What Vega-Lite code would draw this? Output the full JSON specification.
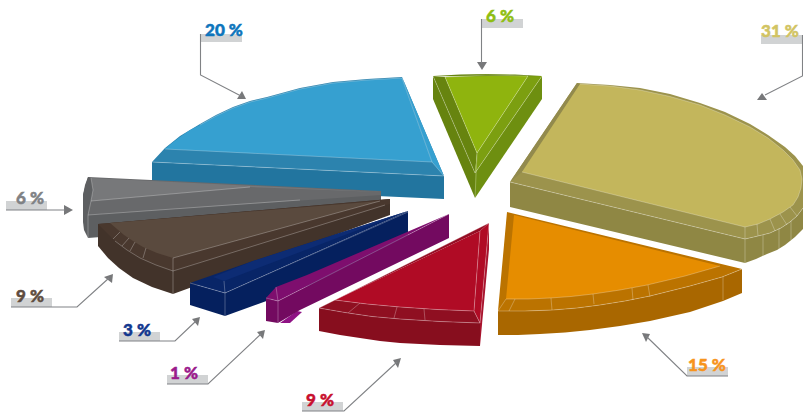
{
  "$schema": "https://vega.github.io/schema/vega-lite/v6.json",
  "width": 803,
  "height": 412,
  "padding": 0,
  "autosize": {"type": "none"},
  "background": "#ffffff",
  "view": {"stroke": null},
  "datasets": {
    "faces": [
      {"part":"blue side","x":152,"y":162},{"part":"blue side","x":444,"y":176},{"part":"blue side","x":444,"y":199},{"part":"blue side","x":152,"y":186},
      {"part":"blue bevel","x":402,"y":77},{"part":"blue bevel","x":367,"y":79},{"part":"blue bevel","x":333,"y":82},{"part":"blue bevel","x":300,"y":88},{"part":"blue bevel","x":267,"y":97},{"part":"blue bevel","x":250,"y":101},{"part":"blue bevel","x":233,"y":107},{"part":"blue bevel","x":216,"y":115},{"part":"blue bevel","x":200,"y":124},{"part":"blue bevel","x":180,"y":136},{"part":"blue bevel","x":165,"y":148},{"part":"blue bevel","x":152,"y":162},{"part":"blue bevel","x":444,"y":176},
      {"part":"blue top","x":402,"y":78},{"part":"blue top","x":367,"y":80},{"part":"blue top","x":333,"y":83},{"part":"blue top","x":300,"y":89},{"part":"blue top","x":267,"y":98},{"part":"blue top","x":250,"y":102},{"part":"blue top","x":233,"y":108},{"part":"blue top","x":216,"y":116},{"part":"blue top","x":200,"y":125},{"part":"blue top","x":190,"y":130},{"part":"blue top","x":180,"y":137},{"part":"blue top","x":172,"y":143},{"part":"blue top","x":165,"y":149},{"part":"blue top","x":432,"y":162},
      {"part":"blue inner","x":402,"y":77},{"part":"blue inner","x":444,"y":176},{"part":"blue inner","x":432,"y":162},

      {"part":"gray side","x":83,"y":195},{"part":"gray side","x":381,"y":195},{"part":"gray side","x":381,"y":215},{"part":"gray side","x":88,"y":238},{"part":"gray side","x":84,"y":230},{"part":"gray side","x":83,"y":222},
      {"part":"gray bevel","x":88,"y":177},{"part":"gray bevel","x":381,"y":191},{"part":"gray bevel","x":381,"y":195},{"part":"gray bevel","x":88,"y":215},{"part":"gray bevel","x":83,"y":195},
      {"part":"gray top","x":91,"y":178},{"part":"gray top","x":381,"y":192},{"part":"gray top","x":250,"y":187},{"part":"gray top","x":91,"y":201},{"part":"gray top","x":93,"y":190},
      {"part":"gray cap","x":88,"y":177},{"part":"gray cap","x":91,"y":178},{"part":"gray cap","x":93,"y":190},{"part":"gray cap","x":91,"y":201},{"part":"gray cap","x":88,"y":215},{"part":"gray cap","x":84,"y":205},{"part":"gray cap","x":83,"y":195},{"part":"gray cap","x":85,"y":185},

      {"part":"brown side","x":98,"y":224},{"part":"brown side","x":390,"y":199},{"part":"brown side","x":390,"y":215},{"part":"brown side","x":173,"y":294},{"part":"brown side","x":152,"y":287},{"part":"brown side","x":133,"y":278},{"part":"brown side","x":119,"y":268},{"part":"brown side","x":108,"y":258},{"part":"brown side","x":98,"y":246},
      {"part":"brown bevel","x":98,"y":224},{"part":"brown bevel","x":390,"y":199},{"part":"brown bevel","x":390,"y":204},{"part":"brown bevel","x":173,"y":271},{"part":"brown bevel","x":156,"y":265},{"part":"brown bevel","x":140,"y":258},{"part":"brown bevel","x":127,"y":250},{"part":"brown bevel","x":115,"y":241},{"part":"brown bevel","x":106,"y":232},
      {"part":"brown top","x":110,"y":223},{"part":"brown top","x":380,"y":201},{"part":"brown top","x":173,"y":258},{"part":"brown top","x":157,"y":253},{"part":"brown top","x":143,"y":247},{"part":"brown top","x":133,"y":241},{"part":"brown top","x":124,"y":235},{"part":"brown top","x":117,"y":229},

      {"part":"navy side","x":225,"y":293},{"part":"navy side","x":408,"y":211},{"part":"navy side","x":408,"y":250},{"part":"navy side","x":225,"y":316},
      {"part":"navy front","x":190,"y":283},{"part":"navy front","x":225,"y":293},{"part":"navy front","x":225,"y":316},{"part":"navy front","x":190,"y":305},
      {"part":"navy bevel","x":190,"y":283},{"part":"navy bevel","x":253,"y":261},{"part":"navy bevel","x":408,"y":211},{"part":"navy bevel","x":225,"y":293},
      {"part":"navy cap","x":213,"y":277},{"part":"navy cap","x":253,"y":261},{"part":"navy cap","x":408,"y":211},{"part":"navy cap","x":224,"y":281},

      {"part":"purple sliver","x":280,"y":323},{"part":"purple sliver","x":290,"y":323},{"part":"purple sliver","x":302,"y":312},{"part":"purple sliver","x":297,"y":311},
      {"part":"purple side","x":278,"y":301},{"part":"purple side","x":449,"y":214},{"part":"purple side","x":449,"y":238},{"part":"purple side","x":300,"y":310},{"part":"purple side","x":278,"y":323},
      {"part":"purple front","x":266,"y":298},{"part":"purple front","x":278,"y":301},{"part":"purple front","x":278,"y":323},{"part":"purple front","x":266,"y":321},
      {"part":"purple bevel","x":266,"y":298},{"part":"purple bevel","x":276,"y":287},{"part":"purple bevel","x":307,"y":275},{"part":"purple bevel","x":449,"y":214},{"part":"purple bevel","x":278,"y":301},

      {"part":"red side","x":319,"y":308},{"part":"red side","x":345,"y":312.5},{"part":"red side","x":372,"y":316.5},{"part":"red side","x":400,"y":319},{"part":"red side","x":440,"y":321.5},{"part":"red side","x":480,"y":323},{"part":"red side","x":480,"y":346},{"part":"red side","x":440,"y":345},{"part":"red side","x":400,"y":343},{"part":"red side","x":380,"y":341},{"part":"red side","x":360,"y":338},{"part":"red side","x":340,"y":335},{"part":"red side","x":319,"y":331},
      {"part":"red edge","x":489,"y":223},{"part":"red edge","x":480,"y":323},{"part":"red edge","x":480,"y":346},{"part":"red edge","x":489,"y":249},
      {"part":"red bevel","x":319,"y":308},{"part":"red bevel","x":335,"y":300},{"part":"red bevel","x":367,"y":304},{"part":"red bevel","x":400,"y":307},{"part":"red bevel","x":437,"y":309.5},{"part":"red bevel","x":474,"y":311},{"part":"red bevel","x":480,"y":323},{"part":"red bevel","x":440,"y":321.5},{"part":"red bevel","x":400,"y":319},{"part":"red bevel","x":372,"y":316.5},{"part":"red bevel","x":345,"y":312.5},
      {"part":"red rim","x":489,"y":223},{"part":"red rim","x":480,"y":231},{"part":"red rim","x":335,"y":300},{"part":"red rim","x":319,"y":308},
      {"part":"red top","x":480,"y":231},{"part":"red top","x":474,"y":311},{"part":"red top","x":437,"y":309.5},{"part":"red top","x":400,"y":307},{"part":"red top","x":367,"y":304},{"part":"red top","x":335,"y":300},
      {"part":"red inner","x":489,"y":223},{"part":"red inner","x":480,"y":231},{"part":"red inner","x":474,"y":311},{"part":"red inner","x":480,"y":323},

      {"part":"khaki side","x":510,"y":182},{"part":"khaki side","x":745,"y":239},{"part":"khaki side","x":758,"y":236},{"part":"khaki side","x":770,"y":233},{"part":"khaki side","x":781,"y":228},{"part":"khaki side","x":790,"y":222},{"part":"khaki side","x":797,"y":216},{"part":"khaki side","x":803,"y":208},{"part":"khaki side","x":803,"y":229},{"part":"khaki side","x":795,"y":237},{"part":"khaki side","x":785,"y":245},{"part":"khaki side","x":777,"y":250},{"part":"khaki side","x":767,"y":254},{"part":"khaki side","x":756,"y":259},{"part":"khaki side","x":745,"y":263},{"part":"khaki side","x":510,"y":207},
      {"part":"khaki bevel","x":577,"y":83},{"part":"khaki bevel","x":610,"y":85},{"part":"khaki bevel","x":640,"y":88},{"part":"khaki bevel","x":670,"y":94},{"part":"khaki bevel","x":700,"y":103},{"part":"khaki bevel","x":725,"y":112},{"part":"khaki bevel","x":750,"y":124},{"part":"khaki bevel","x":768,"y":135},{"part":"khaki bevel","x":785,"y":147},{"part":"khaki bevel","x":795,"y":156},{"part":"khaki bevel","x":803,"y":166},{"part":"khaki bevel","x":803,"y":208},{"part":"khaki bevel","x":797,"y":216},{"part":"khaki bevel","x":790,"y":222},{"part":"khaki bevel","x":781,"y":228},{"part":"khaki bevel","x":770,"y":233},{"part":"khaki bevel","x":758,"y":236},{"part":"khaki bevel","x":745,"y":239},{"part":"khaki bevel","x":510,"y":182},
      {"part":"khaki back","x":577,"y":83},{"part":"khaki back","x":580,"y":84},{"part":"khaki back","x":522,"y":172},{"part":"khaki back","x":510,"y":182},
      {"part":"khaki top","x":580,"y":84},{"part":"khaki top","x":610,"y":86},{"part":"khaki top","x":640,"y":90},{"part":"khaki top","x":670,"y":96.5},{"part":"khaki top","x":700,"y":105},{"part":"khaki top","x":725,"y":115},{"part":"khaki top","x":750,"y":127},{"part":"khaki top","x":768,"y":138},{"part":"khaki top","x":783,"y":150},{"part":"khaki top","x":793,"y":160},{"part":"khaki top","x":800,"y":170},{"part":"khaki top","x":802,"y":179},{"part":"khaki top","x":801,"y":188},{"part":"khaki top","x":798,"y":197},{"part":"khaki top","x":793,"y":205},{"part":"khaki top","x":783,"y":212},{"part":"khaki top","x":770,"y":219},{"part":"khaki top","x":758,"y":224},{"part":"khaki top","x":745,"y":227},{"part":"khaki top","x":522,"y":172},

      {"part":"green left side","x":433,"y":76},{"part":"green left side","x":475,"y":173},{"part":"green left side","x":475,"y":198},{"part":"green left side","x":433,"y":99},
      {"part":"green right side","x":542,"y":76},{"part":"green right side","x":542,"y":99},{"part":"green right side","x":475,"y":198},{"part":"green right side","x":475,"y":173},
      {"part":"green left bevel","x":433,"y":76},{"part":"green left bevel","x":445,"y":77},{"part":"green left bevel","x":477,"y":153},{"part":"green left bevel","x":475,"y":173},
      {"part":"green right bevel","x":542,"y":76},{"part":"green right bevel","x":528,"y":76},{"part":"green right bevel","x":477,"y":153},{"part":"green right bevel","x":475,"y":173},
      {"part":"green back","x":433,"y":76},{"part":"green back","x":460,"y":74.5},{"part":"green back","x":487,"y":74},{"part":"green back","x":515,"y":74.5},{"part":"green back","x":542,"y":76},{"part":"green back","x":487,"y":77},
      {"part":"green top","x":445,"y":77},{"part":"green top","x":487,"y":76},{"part":"green top","x":528,"y":76},{"part":"green top","x":477,"y":153},

      {"part":"orange side","x":498,"y":311},{"part":"orange side","x":525,"y":311},{"part":"orange side","x":553,"y":310},{"part":"orange side","x":577,"y":308},{"part":"orange side","x":600,"y":305},{"part":"orange side","x":625,"y":301},{"part":"orange side","x":650,"y":296},{"part":"orange side","x":690,"y":286},{"part":"orange side","x":722,"y":277},{"part":"orange side","x":742,"y":269},{"part":"orange side","x":742,"y":293},{"part":"orange side","x":723,"y":301},{"part":"orange side","x":690,"y":312},{"part":"orange side","x":650,"y":321},{"part":"orange side","x":620,"y":326},{"part":"orange side","x":590,"y":330},{"part":"orange side","x":565,"y":332.5},{"part":"orange side","x":540,"y":334},{"part":"orange side","x":518,"y":335},{"part":"orange side","x":498,"y":335},
      {"part":"orange bevel","x":507,"y":212},{"part":"orange bevel","x":742,"y":269},{"part":"orange bevel","x":722,"y":277},{"part":"orange bevel","x":690,"y":286},{"part":"orange bevel","x":650,"y":296},{"part":"orange bevel","x":625,"y":301},{"part":"orange bevel","x":600,"y":305},{"part":"orange bevel","x":577,"y":308},{"part":"orange bevel","x":553,"y":310},{"part":"orange bevel","x":525,"y":311},{"part":"orange bevel","x":498,"y":311},
      {"part":"orange top","x":514,"y":215},{"part":"orange top","x":720,"y":266},{"part":"orange top","x":685,"y":276},{"part":"orange top","x":647,"y":285},{"part":"orange top","x":620,"y":290},{"part":"orange top","x":593,"y":294},{"part":"orange top","x":571,"y":296.5},{"part":"orange top","x":550,"y":298},{"part":"orange top","x":528,"y":299},{"part":"orange top","x":506,"y":299},

      {"part":"blue arrow","x":237,"y":99},{"part":"blue arrow","x":246,"y":99},{"part":"blue arrow","x":242,"y":91},
      {"part":"green arrow","x":477,"y":62},{"part":"green arrow","x":487,"y":62},{"part":"green arrow","x":482,"y":70},
      {"part":"khaki arrow","x":757,"y":100},{"part":"khaki arrow","x":767,"y":100},{"part":"khaki arrow","x":762,"y":93},
      {"part":"orange arrow","x":642,"y":333},{"part":"orange arrow","x":650,"y":334},{"part":"orange arrow","x":646,"y":342},
      {"part":"red arrow","x":401,"y":358},{"part":"red arrow","x":393,"y":360},{"part":"red arrow","x":398,"y":368},
      {"part":"purple arrow","x":265,"y":330},{"part":"purple arrow","x":257,"y":332},{"part":"purple arrow","x":263,"y":339},
      {"part":"navy arrow","x":200,"y":317},{"part":"navy arrow","x":192,"y":319},{"part":"navy arrow","x":198,"y":326},
      {"part":"brown arrow","x":113,"y":274},{"part":"brown arrow","x":104,"y":277},{"part":"brown arrow","x":112,"y":283},
      {"part":"gray arrow","x":64,"y":205},{"part":"gray arrow","x":64,"y":215},{"part":"gray arrow","x":73,"y":210}
    ],
    "seams": [
      {"seam":"b1","x":152,"y":162},{"seam":"b1","x":444,"y":176},
      {"seam":"b2","x":165,"y":149},{"seam":"b2","x":432,"y":162},{"seam":"b2","x":444,"y":176},
      {"seam":"b3","x":402,"y":78},{"seam":"b3","x":432,"y":162},
      {"seam":"b4","x":402,"y":78},{"seam":"b4","x":367,"y":80},{"seam":"b4","x":333,"y":83},{"seam":"b4","x":300,"y":89},{"seam":"b4","x":267,"y":98},{"seam":"b4","x":250,"y":102},{"seam":"b4","x":233,"y":108},{"seam":"b4","x":216,"y":116},{"seam":"b4","x":200,"y":125},

      {"seam":"g1","x":91,"y":201},{"seam":"g1","x":250,"y":187},
      {"seam":"g2","x":88,"y":215},{"seam":"g2","x":300,"y":200},
      {"seam":"g3","x":88,"y":215},{"seam":"g3","x":91,"y":201},{"seam":"g3","x":93,"y":190},{"seam":"g3","x":91,"y":178},
      {"seam":"g4","x":88,"y":215},{"seam":"g4","x":88,"y":238},

      {"seam":"br1","x":173,"y":258},{"seam":"br1","x":380,"y":201},
      {"seam":"br2","x":173,"y":271},{"seam":"br2","x":385,"y":205},
      {"seam":"br3","x":173,"y":258},{"seam":"br3","x":173,"y":294},
      {"seam":"br4","x":115,"y":241},{"seam":"br4","x":127,"y":250},{"seam":"br4","x":140,"y":258},{"seam":"br4","x":156,"y":265},{"seam":"br4","x":173,"y":271},
      {"seam":"br6","x":113,"y":239},{"seam":"br6","x":120,"y":232},
      {"seam":"br7","x":122,"y":246},{"seam":"br7","x":129,"y":238},
      {"seam":"br8","x":130,"y":251},{"seam":"br8","x":135,"y":242},
      {"seam":"br9","x":143,"y":258},{"seam":"br9","x":146,"y":248},

      {"seam":"n1","x":190,"y":283},{"seam":"n1","x":225,"y":293},{"seam":"n1","x":408,"y":212},
      {"seam":"n2","x":225,"y":293},{"seam":"n2","x":225,"y":316},
      {"seam":"n3","x":224,"y":281},{"seam":"n3","x":225,"y":293},

      {"seam":"p1","x":266,"y":298},{"seam":"p1","x":278,"y":301},{"seam":"p1","x":449,"y":214},
      {"seam":"p2","x":278,"y":301},{"seam":"p2","x":278,"y":323},
      {"seam":"p3","x":276,"y":287},{"seam":"p3","x":278,"y":301},

      {"seam":"r1","x":319,"y":308},{"seam":"r1","x":345,"y":312.5},{"seam":"r1","x":372,"y":316.5},{"seam":"r1","x":400,"y":319},{"seam":"r1","x":440,"y":321.5},{"seam":"r1","x":480,"y":323},
      {"seam":"r2","x":335,"y":300},{"seam":"r2","x":367,"y":304},{"seam":"r2","x":400,"y":307},{"seam":"r2","x":437,"y":309.5},{"seam":"r2","x":474,"y":311},{"seam":"r2","x":480,"y":323},
      {"seam":"r3","x":474,"y":311},{"seam":"r3","x":480,"y":231},
      {"seam":"r4","x":480,"y":323},{"seam":"r4","x":489,"y":223},
      {"seam":"r5","x":319,"y":308},{"seam":"r5","x":489,"y":223},
      {"seam":"r6","x":424,"y":309},{"seam":"r6","x":425,"y":320},
      {"seam":"r7","x":397,"y":307},{"seam":"r7","x":394,"y":318},
      {"seam":"r8","x":360,"y":303},{"seam":"r8","x":348,"y":313},

      {"seam":"k1","x":510,"y":182},{"seam":"k1","x":745,"y":239},{"seam":"k1","x":758,"y":236},{"seam":"k1","x":770,"y":233},{"seam":"k1","x":781,"y":228},{"seam":"k1","x":790,"y":222},{"seam":"k1","x":797,"y":216},{"seam":"k1","x":803,"y":208},
      {"seam":"k2","x":522,"y":172},{"seam":"k2","x":745,"y":227},{"seam":"k2","x":758,"y":224},{"seam":"k2","x":770,"y":219},{"seam":"k2","x":783,"y":212},{"seam":"k2","x":793,"y":205},{"seam":"k2","x":798,"y":197},{"seam":"k2","x":801,"y":188},{"seam":"k2","x":802,"y":179},{"seam":"k2","x":800,"y":170},{"seam":"k2","x":793,"y":160},{"seam":"k2","x":783,"y":150},{"seam":"k2","x":768,"y":138},{"seam":"k2","x":750,"y":127},{"seam":"k2","x":725,"y":115},{"seam":"k2","x":700,"y":105},{"seam":"k2","x":670,"y":96.5},{"seam":"k2","x":640,"y":90},{"seam":"k2","x":610,"y":86},{"seam":"k2","x":580,"y":84},
      {"seam":"k3","x":745,"y":227},{"seam":"k3","x":745,"y":263},
      {"seam":"k4","x":763,"y":235},{"seam":"k4","x":763,"y":256},
      {"seam":"k5","x":779,"y":228},{"seam":"k5","x":779,"y":249},
      {"seam":"k6","x":791,"y":221},{"seam":"k6","x":791,"y":240},
      {"seam":"k7","x":757,"y":224},{"seam":"k7","x":758,"y":236},
      {"seam":"k8","x":770,"y":219},{"seam":"k8","x":775,"y":231},
      {"seam":"k9","x":780,"y":214},{"seam":"k9","x":787,"y":225},
      {"seam":"k10","x":790,"y":207},{"seam":"k10","x":797,"y":216},

      {"seam":"gr1","x":445,"y":77},{"seam":"gr1","x":477,"y":153},{"seam":"gr1","x":528,"y":76},
      {"seam":"gr2","x":433,"y":76},{"seam":"gr2","x":475,"y":173},{"seam":"gr2","x":542,"y":76},
      {"seam":"gr3","x":477,"y":153},{"seam":"gr3","x":475,"y":198},
      {"seam":"gr4","x":445,"y":77},{"seam":"gr4","x":487,"y":75},{"seam":"gr4","x":528,"y":76},

      {"seam":"o1","x":498,"y":311},{"seam":"o1","x":525,"y":311},{"seam":"o1","x":553,"y":310},{"seam":"o1","x":577,"y":308},{"seam":"o1","x":600,"y":305},{"seam":"o1","x":625,"y":301},{"seam":"o1","x":650,"y":296},{"seam":"o1","x":690,"y":286},{"seam":"o1","x":722,"y":277},{"seam":"o1","x":742,"y":269},
      {"seam":"o2","x":506,"y":299},{"seam":"o2","x":528,"y":299},{"seam":"o2","x":550,"y":298},{"seam":"o2","x":571,"y":296.5},{"seam":"o2","x":593,"y":294},{"seam":"o2","x":620,"y":290},{"seam":"o2","x":647,"y":285},{"seam":"o2","x":685,"y":276},{"seam":"o2","x":720,"y":266},
      {"seam":"o3","x":551,"y":298},{"seam":"o3","x":552,"y":310},
      {"seam":"o4","x":593,"y":294},{"seam":"o4","x":594,"y":304},
      {"seam":"o5","x":632,"y":288},{"seam":"o5","x":633,"y":300},
      {"seam":"o6","x":648,"y":285},{"seam":"o6","x":650,"y":297},
      {"seam":"o7","x":723,"y":277},{"seam":"o7","x":723,"y":300},
      {"seam":"o8","x":506,"y":299},{"seam":"o8","x":498,"y":311},
      {"seam":"o9","x":515,"y":299},{"seam":"o9","x":509,"y":311}
    ],
    "labels": [
      {"name":"Blue","label":"20 %","cx":224,"cy":31,"x0":201,"x1":242,"y0":34,"y1":42},
      {"name":"Green","label":"6 %","cx":500,"cy":17,"x0":482,"x1":523,"y0":19,"y1":28},
      {"name":"Khaki","label":"31 %","cx":780,"cy":32,"x0":761,"x1":802,"y0":35,"y1":44},
      {"name":"Orange","label":"15 %","cx":707,"cy":366,"x0":687,"x1":728,"y0":367,"y1":376},
      {"name":"Red","label":"9 %","cx":320,"cy":401,"x0":302,"x1":343,"y0":402,"y1":411},
      {"name":"Purple","label":"1 %","cx":184,"cy":374,"x0":167,"x1":208,"y0":375,"y1":384},
      {"name":"Navy","label":"3 %","cx":137,"cy":331,"x0":119,"x1":160,"y0":332,"y1":341},
      {"name":"Brown","label":"9 %","cx":30,"cy":297,"x0":11,"x1":52,"y0":298,"y1":307},
      {"name":"Gray","label":"6 %","cx":30,"cy":199,"x0":6,"x1":47,"y0":201,"y1":210}
    ],
    "leaders": [
      {"name":"Blue","x":200.5,"y":34},{"name":"Blue","x":200.5,"y":75},{"name":"Blue","x":241,"y":96},
      {"name":"Green","x":481.5,"y":19},{"name":"Green","x":481.5,"y":63},
      {"name":"Khaki","x":802.5,"y":35},{"name":"Khaki","x":802.5,"y":76},{"name":"Khaki","x":765,"y":95},
      {"name":"Orange","x":728,"y":376},{"name":"Orange","x":687,"y":376},{"name":"Orange","x":646,"y":336},
      {"name":"Red","x":302,"y":411},{"name":"Red","x":344,"y":411},{"name":"Red","x":397,"y":362},
      {"name":"Purple","x":167,"y":384},{"name":"Purple","x":208,"y":384},{"name":"Purple","x":261,"y":334},
      {"name":"Navy","x":119,"y":341},{"name":"Navy","x":175,"y":341},{"name":"Navy","x":196,"y":321},
      {"name":"Brown","x":11,"y":307},{"name":"Brown","x":77,"y":307},{"name":"Brown","x":109,"y":278},
      {"name":"Gray","x":6,"y":210},{"name":"Gray","x":65,"y":210}
    ]
  },
  "resolve": {"scale": {"color": "independent"}},
  "layer": [
    {
      "data": {"name": "labels"},
      "mark": {"type": "rect", "color": "#d1d3d4"},
      "encoding": {
        "x": {"field": "x0", "type": "quantitative", "scale": {"domain": [0, 803], "nice": false, "zero": false}, "axis": null},
        "x2": {"field": "x1"},
        "y": {"field": "y0", "type": "quantitative", "scale": {"domain": [412, 0], "nice": false, "zero": false}, "axis": null},
        "y2": {"field": "y1"}
      }
    },
    {
      "data": {"name": "faces"},
      "mark": {"type": "line", "filled": true, "strokeWidth": 0.6, "interpolate": "linear-closed"},
      "encoding": {
        "x": {"field": "x", "type": "quantitative", "axis": null},
        "y": {"field": "y", "type": "quantitative", "axis": null},
        "order": {"value": null},
        "color": {
          "field": "part",
          "type": "nominal",
          "legend": null,
          "scale": {
            "domain": ["blue side","blue bevel","blue top","blue inner","gray side","gray bevel","gray top","gray cap","brown side","brown bevel","brown top","navy side","navy front","navy bevel","navy cap","purple sliver","purple side","purple front","purple bevel","red side","red edge","red bevel","red rim","red top","red inner","khaki side","khaki bevel","khaki back","khaki top","green left side","green right side","green left bevel","green right bevel","green back","green top","orange side","orange bevel","orange top","blue arrow","green arrow","khaki arrow","orange arrow","red arrow","purple arrow","navy arrow","brown arrow","gray arrow"],
            "range": ["#22759f","#2c83ae","#36a0d0","#36a0d0","#5d5f61","#68696b","#77787a","#5d5f61","#42332a","#49382e","#5a4a3e","#05205e","#05205e","#082567","#0d2c74","#8f1284","#730a60","#730a60","#7e0e6e","#870e1e","#a8122c","#8f0f21","#950e24","#b00b25","#b00b25","#8f8744","#9c934c","#928a4d","#c3b65c","#66830f","#6e8f10","#67840f","#7c9f10","#66830f","#8fb40e","#a96700","#bb7300","#e68d00","#77787a","#77787a","#77787a","#77787a","#77787a","#77787a","#77787a","#77787a","#77787a"]
          }
        }
      }
    },
    {
      "data": {"name": "seams"},
      "mark": {"type": "line", "stroke": "#ffffff", "strokeWidth": 0.6, "opacity": 0.45},
      "encoding": {
        "x": {"field": "x", "type": "quantitative", "axis": null},
        "y": {"field": "y", "type": "quantitative", "axis": null},
        "order": {"value": null},
        "detail": {"field": "seam"}
      }
    },
    {
      "data": {"name": "leaders"},
      "mark": {"type": "line", "stroke": "#808285", "strokeWidth": 1.1},
      "encoding": {
        "x": {"field": "x", "type": "quantitative", "axis": null},
        "y": {"field": "y", "type": "quantitative", "axis": null},
        "order": {"value": null},
        "detail": {"field": "name"}
      }
    },
    {
      "data": {"name": "labels"},
      "mark": {"type": "text", "font": "Lato", "fontWeight": 900, "fontSize": 17, "baseline": "middle", "align": "center", "strokeWidth": 0.5},
      "encoding": {
        "x": {"field": "cx", "type": "quantitative", "axis": null},
        "y": {"field": "cy", "type": "quantitative", "axis": null},
        "text": {"field": "label"},
        "color": {
          "field": "name",
          "type": "nominal",
          "legend": null,
          "scale": {
            "domain": ["Blue","Green","Khaki","Orange","Red","Purple","Navy","Brown","Gray"],
            "range": ["#0d75bc","#8fbe12","#d2c463","#f7941d","#c8102e","#9b1b8c","#12378f","#5f4d40","#808285"]
          }
        },
        "stroke": {
          "field": "name",
          "type": "nominal",
          "legend": null,
          "scale": {
            "domain": ["Blue","Green","Khaki","Orange","Red","Purple","Navy","Brown","Gray"],
            "range": ["#0d75bc","#8fbe12","#d2c463","#f7941d","#c8102e","#9b1b8c","#12378f","#5f4d40","#808285"]
          }
        }
      }
    }
  ]
}
